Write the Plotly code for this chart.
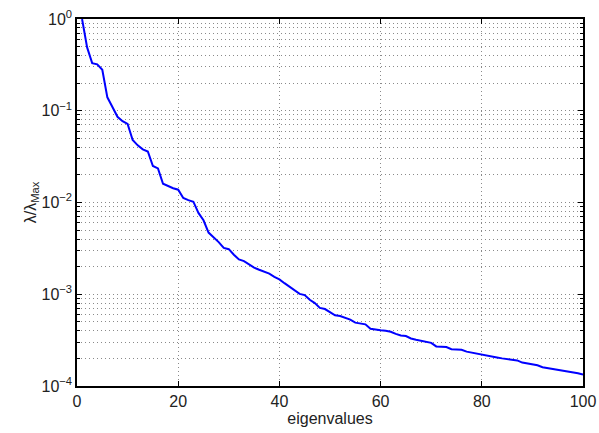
import plotly.graph_objects as go

x_vals = list(range(1, 101))
ratio = [
    1.0, 0.49, 0.33, 0.32, 0.28, 0.14, 0.11, 0.086, 0.077, 0.072,
    0.048, 0.042, 0.038, 0.036, 0.025, 0.0235, 0.016, 0.015, 0.0143, 0.0138,
    0.0112, 0.0106, 0.0102, 0.0077, 0.0064, 0.0047, 0.0042, 0.0037, 0.0032, 0.0031,
    0.0027, 0.0024, 0.0023, 0.0021, 0.00195, 0.00185, 0.00175, 0.00168, 0.00155, 0.00145,
    0.00132, 0.0012, 0.0011, 0.00101, 0.00098, 0.00087, 0.0008, 0.00071, 0.00069, 0.00064,
    0.00059, 0.00058, 0.00055, 0.00053, 0.00049, 0.00048, 0.00047, 0.00042, 0.00041, 0.000405,
    0.0004, 0.00039, 0.00037, 0.000355, 0.00035, 0.00033, 0.00032, 0.00031, 0.000305, 0.000295,
    0.00027, 0.000268, 0.000266, 0.000252, 0.00025, 0.000248, 0.000237, 0.000232, 0.000224, 0.00022,
    0.000215, 0.00021, 0.000205, 0.0002, 0.000196, 0.000193, 0.00019, 0.00018, 0.000176, 0.000172,
    0.000168, 0.00016, 0.000157, 0.000153, 0.00015, 0.000147, 0.000145, 0.000142, 0.000138, 0.000133,
]
x_ticks = [0, 20, 40, 60, 80, 100]
y_ticks = [1e-4, 1e-3, 1e-2, 1e-1, 1e0]
y_ticktext = ["10<sup>−4</sup>", "10<sup>−3</sup>", "10<sup>−2</sup>", "10<sup>−1</sup>", "10<sup>0</sup>"]

fig = go.Figure()
fig.add_trace(go.Scatter(x=x_vals, y=ratio, mode="lines",
                         line=dict(color="#0000ff", width=2)))

font = dict(family="Liberation Sans, Arial, sans-serif", size=16, color="#222")
gridc = "#8a8a8a"
dash = "1px,3px"
fig.update_layout(
    width=599, height=433,
    margin=dict(l=77, r=16, t=19, b=47),
    paper_bgcolor="white", plot_bgcolor="white",
    showlegend=False, font=font,
    xaxis=dict(range=[0, 100], tickvals=x_ticks, ticks="inside", ticklen=5,
               tickcolor="black", showline=True, linecolor="black", linewidth=1.5,
               mirror="allticks", showgrid=True, gridcolor=gridc, griddash=dash,
               gridwidth=1, zeroline=False, automargin=False,
               ticklabeloverflow="allow",
               title=dict(text="eigenvalues", standoff=0, font=font)),
    yaxis=dict(type="log", range=[-4, 0], tickvals=y_ticks, ticktext=y_ticktext,
               ticks="inside", ticklen=5, tickcolor="black", showline=True,
               linecolor="black", linewidth=1.5, mirror="allticks",
               showgrid=True, gridcolor=gridc, griddash=dash, gridwidth=1,
               zeroline=False, automargin=False, ticklabeloverflow="allow",
               minor=dict(dtick="D1", ticks="inside", ticklen=3, tickcolor="black",
                          showgrid=True, gridcolor=gridc, griddash=dash, gridwidth=1),
               title=dict(text="λ/λ<sub>Max</sub>", standoff=0, font=font)),
)
fig.write_html("out.html", config={"displayModeBar": False},
               post_script="document.body.style.margin='0';document.body.style.overflow='hidden';")
